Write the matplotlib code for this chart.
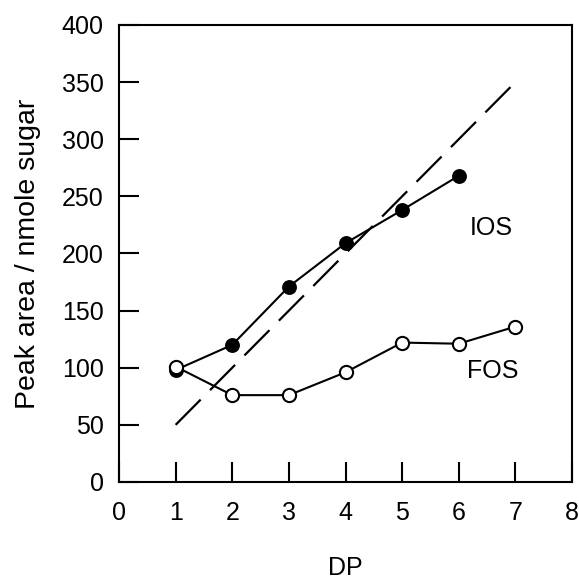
import matplotlib
matplotlib.use("Agg")
import matplotlib.pyplot as plt

plt.rcParams['font.family'] = ['Liberation Sans', 'DejaVu Sans']

dp_ios = [1, 2, 3, 4, 5, 6]
ios = [98, 120, 171, 209, 238, 268]
dp_fos = [1, 2, 3, 4, 5, 6, 7]
fos = [101, 76, 76, 96, 122, 121, 136]
fit_x = [1, 7]
fit_y = [50, 350]

fig = plt.figure(figsize=(5.79, 5.80), dpi=100)
ax = fig.add_axes([0.2055, 0.169, 0.7825, 0.788])

ax.plot(fit_x, fit_y, color='black', lw=1.6, dashes=(16, 6))
ax.plot(dp_ios, ios, color='black', lw=1.5, marker='o', ms=9.5,
        mfc='black', mec='black', mew=1.2, zorder=3)
ax.plot(dp_fos, fos, color='black', lw=1.5, marker='o', ms=9.5,
        mfc='white', mec='black', mew=1.5, zorder=4)

ax.text(6.57, 222, 'IOS', fontsize=18, ha='center', va='center')
ax.text(6.6, 97, 'FOS', fontsize=18, ha='center', va='center')

ax.set_xlim(0, 8)
ax.set_ylim(0, 400)
ax.set_xticks(range(0, 9))
ax.set_yticks(range(0, 401, 50))
ax.tick_params(direction='in', length=14.5, width=1.5, labelsize=18)
ax.tick_params(axis='x', pad=14)
ax.tick_params(axis='y', pad=11)
for s in ax.spines.values():
    s.set_linewidth(1.5)

ax.set_xlabel('DP', fontsize=18, labelpad=22)
ax.set_ylabel('Peak area / nmole sugar', fontsize=20.5, labelpad=15)

fig.savefig('out.png', dpi=100)
